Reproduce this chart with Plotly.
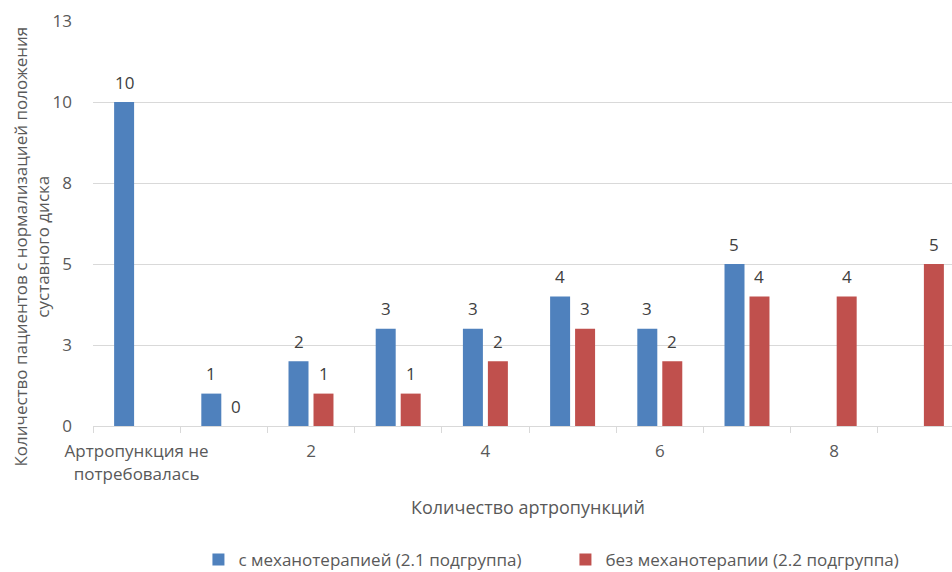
import plotly.graph_objects as go

# Categories along the x axis (number of arthrocenteses)
categories = ["Артропункция не<br>потребовалась", "1", "2", "3", "4", "5", "6", "7", "8", "9"]
shown_ticks = [0, 2, 4, 6, 8]

# Patients with normalized disc position, per subgroup
with_mech = [10, 1, 2, 3, 3, 4, 3, 5, None, None]
without_mech = [None, 0, 1, 1, 2, 3, 2, 4, 4, 5]

series_names = ["с механотерапией (2.1 подгруппа)", "без механотерапии (2.2 подгруппа)"]
colors = ["#4F81BD", "#C0504D"]

# y ticks at 2.5 steps, labelled with rounded whole numbers
y_tickvals = [0, 2.5, 5, 7.5, 10, 12.5]
y_ticktext = ["0", "3", "5", "8", "10", "13"]

FONT = "Open Sans"
TICK_COLOR = "#595959"
GRID = "#D9D9D9"

W, H = 952, 572
ML, MR, MT, MB = 92.5, 0, 21, 146
pw, ph = W - ML - MR, H - MT - MB


def px_x(x):
    return (x - ML) / pw


def px_y(y):
    return (H - MB - y) / ph


x_pos = list(range(len(categories)))

fig = go.Figure()
for name, vals, col in zip(series_names, [with_mech, without_mech], colors):
    fig.add_trace(go.Bar(
        x=x_pos, y=vals, name=name,
        marker=dict(color=col, line=dict(width=0)),
    ))

# value labels above each bar
shift = 12.5
for k, vals in enumerate([with_mech, without_mech]):
    for xi, v in zip(x_pos, vals):
        if v is None:
            continue
        fig.add_annotation(
            x=xi, y=v, xref="x", yref="y", text=str(v), showarrow=False,
            xshift=-shift if k == 0 else shift, yshift=20,
            font=dict(family=FONT, size=17, color="#404040"),
            xanchor="center", yanchor="middle",
        )

# axis titles
fig.add_annotation(
    x=px_x(528), y=px_y(507), xref="paper", yref="paper",
    text="Количество артропункций",
    showarrow=False, font=dict(family=FONT, size=18, color=TICK_COLOR),
    xanchor="center", yanchor="middle",
)
fig.add_annotation(
    x=px_x(30), y=px_y(247), xref="paper", yref="paper",
    text="Количество пациентов с нормализацией положения<br>суставного диска",
    showarrow=False, textangle=-90, font=dict(family=FONT, size=17, color=TICK_COLOR),
    xanchor="center", yanchor="middle",
)

cat_w = 87.25
x_max = (W - ML) / cat_w - 0.5

fig.update_layout(
    width=W, height=H,
    margin=dict(l=ML, r=MR, t=MT, b=MB, pad=0, autoexpand=False),
    plot_bgcolor="white", paper_bgcolor="white",
    barmode="group", bargap=0.427, bargroupgap=0.2,
    font=dict(family=FONT, size=17, color=TICK_COLOR),
    showlegend=True,
    legend=dict(
        orientation="h", x=px_x(198), xanchor="left",
        y=px_y(560), yanchor="middle",
        font=dict(family=FONT, size=17, color=TICK_COLOR),
        entrywidth=322, entrywidthmode="pixels",
        itemsizing="constant", bgcolor="rgba(0,0,0,0)",
    ),
    xaxis=dict(
        range=[-0.5, x_max], showgrid=False, zeroline=False,
        showline=True, linecolor=GRID, linewidth=1,
        tickmode="array", tickvals=shown_ticks,
        ticktext=[categories[i] for i in shown_ticks],
        ticks="", ticklabelstandoff=10,
        tickfont=dict(family=FONT, size=17, color=TICK_COLOR),
        minor=dict(tick0=-0.5, dtick=1, ticks="outside", ticklen=6,
                   tickcolor=GRID, tickwidth=1, showgrid=False),
        fixedrange=True,
    ),
    yaxis=dict(
        range=[0, 12.5], tickmode="array", tickvals=y_tickvals, ticktext=y_ticktext,
        showgrid=True, gridcolor=GRID, gridwidth=1, zeroline=False,
        showline=False, ticks="", ticklabelstandoff=20,
        tickfont=dict(family=FONT, size=17, color=TICK_COLOR),
        fixedrange=True,
    ),
)

fig.write_html("out.html")
